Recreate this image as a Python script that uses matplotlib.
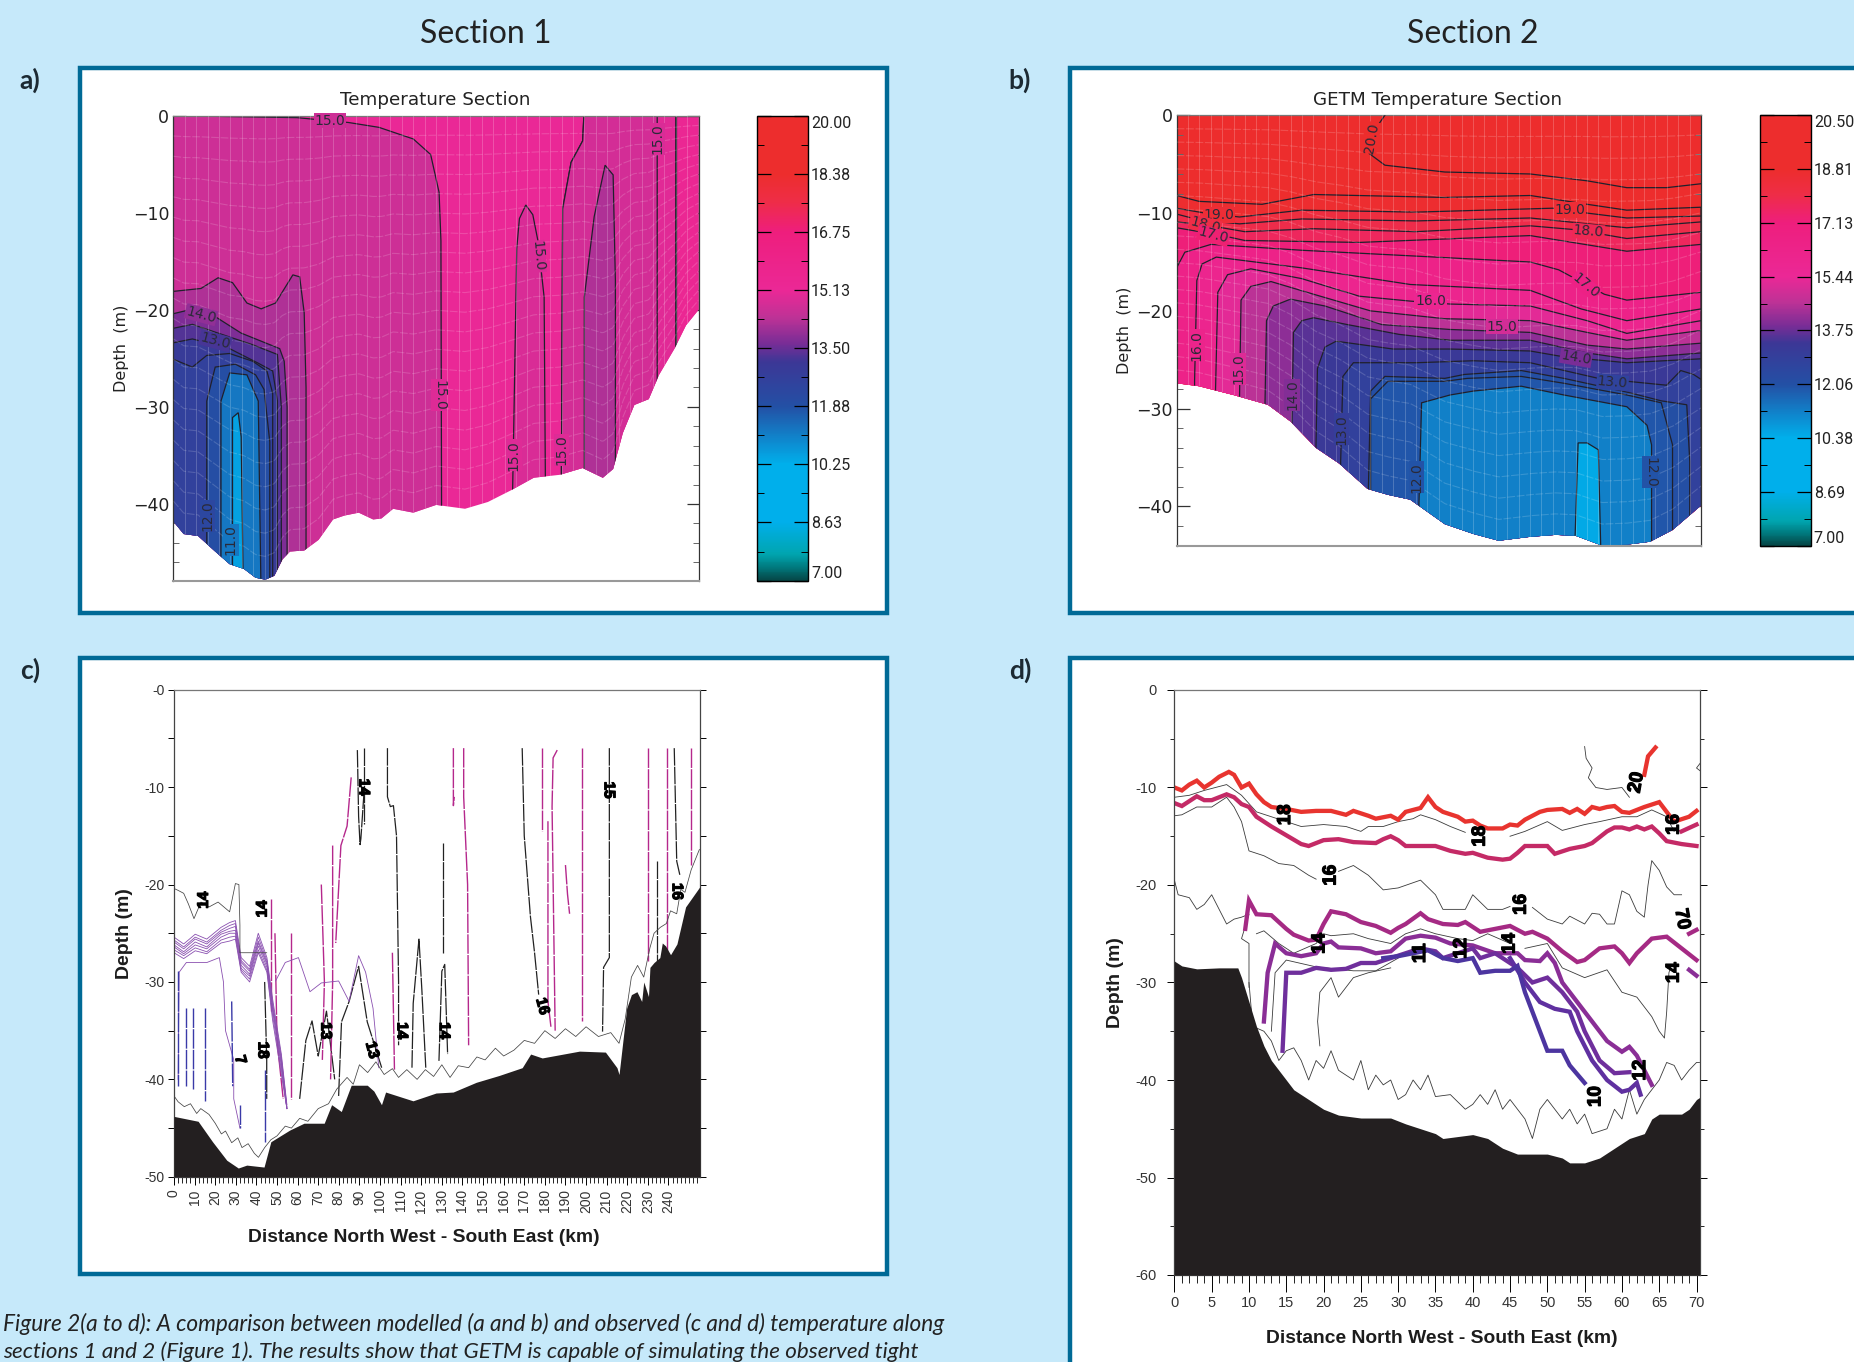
import numpy as np
import matplotlib
matplotlib.use("Agg")
import matplotlib.pyplot as plt
import matplotlib.patheffects as pe
from matplotlib.patches import Polygon, Rectangle
from matplotlib.colors import LinearSegmentedColormap, Normalize
from matplotlib.cm import ScalarMappable
from matplotlib.ticker import MultipleLocator, FixedLocator

W, H = 1854, 1362
plt.rcParams['font.family'] = ['Lato', 'DejaVu Sans']

# ---------- colour scale ----------
CMAP_FRAC = [0, .03, .056, .125, .25, .374, .47, .51, .566, .625, .75, .817, .875, 1]
CMAP_RGB = [(5, 70, 70), (0, 125, 130), (0, 165, 175), (0, 175, 235), (0, 175, 235), (35, 80, 165),
            (60, 55, 150), (120, 45, 150), (190, 50, 150), (235, 40, 150), (238, 30, 125),
            (238, 45, 70), (237, 45, 45), (237, 45, 45)]
CBAR_A_LABELS = ['7.00', '8.63', '10.25', '11.88', '13.50', '15.13', '16.75', '18.38', '20.00']
CBAR_B_LABELS = ['7.00', '8.69', '10.38', '12.06', '13.75', '15.44', '17.13', '18.81', '20.50']

# ---------- panel a ----------
A_BATHY_X = [0, 5, 12, 20.3, 27.3, 34.3, 39.9, 44.6, 49, 53, 56.6, 63.5, 70.5, 77.5, 83, 90, 97, 101, 106.7,
             116.5, 127.6, 141.6, 152.7, 163.9, 175, 187.6, 198.7, 208.5, 213.5, 218.2, 223.8, 230.8, 235.8,
             243.3, 248.9, 255]
A_BATHY_D = [41.8, 43.1, 43.3, 44.9, 46.2, 46.7, 47.6, 47.8, 47.4, 45.7, 44.9, 44.8, 43.7, 41.6, 41.2, 40.9,
             41.6, 41.5, 40.5, 40.9, 40.1, 40.5, 39.8, 38.6, 37.3, 37, 36.3, 37.3, 36.4, 32.7, 29.8, 29.2,
             26.7, 24, 21.6, 20]
A_BASE_T = 15.1
A_EDGE = [(243.9, 0), (255, 0), (255, 50), (243.9, 50)]
A_WEST = [(0, 0), (60, 0.2), (85, .7), (99.8, 1.2), (116.5, 2.4), (124.9, 4), (129, 7.9), (129.9, 12.9),
          (130.2, 40.2), (130.2, 50), (0, 50)]
A_TONGUE1 = [(164.7, 50), (164.7, 38.6), (165.3, 31.5), (166.7, 13.7), (168, 10.6), (171.1, 9.2), (174.5, 10.2),
             (177, 12.9), (180, 18.7), (180.6, 37.3), (180.6, 50)]
A_EAST1 = [(188.4, 50), (188.4, 36.9), (189, 9.6), (193.1, 4.8), (198.7, 2.6), (199.3, 0), (243.9, 0), (243.9, 50)]
A_EAST2 = [(188.4, 50), (188.4, 36.9), (189, 9.6), (193.1, 4.8), (198.7, 2.6), (199.3, 0), (234.9, 0), (234.9, 50)]
A_TONGUE2 = [(199.5, 50), (199.5, 18.7), (204.3, 10.4), (209.6, 5.1), (213.5, 6.1), (214.6, 17), (214.6, 34.8), (214.6, 50)]
A_C1 = [(0, 18.1), (13.4, 17.8), (21.7, 16.7), (28.7, 17.2), (35.7, 19.3), (42.6, 19.9), (49.6, 19.3), (58, 16.4),
        (61.3, 16.6), (63.5, 20.3), (64.4, 28), (64.4, 50), (0, 50)]
A_C2 = [(0, 20.4), (7.8, 20), (20.3, 20.7), (32.9, 22.4), (51.6, 24), (53.8, 25.3), (55.2, 30), (55.2, 50), (0, 50)]
A_C3 = [(0, 21.9), (9.2, 21.5), (21.7, 22.4), (38.5, 23.6), (50.5, 24.6), (52.4, 30), (52.4, 50), (0, 50)]
A_C4 = [(0, 23.4), (9.2, 23), (27.3, 24), (41.2, 25.5), (48.2, 26.3), (50.5, 29.4), (50.5, 50), (0, 50)]
A_C5 = [(0, 25.1), (9.2, 25.9), (16.2, 24.7), (27.3, 24.5), (38.5, 25.3), (45.4, 26.3), (48.2, 28.6), (48.2, 50), (0, 50)]
A_C6 = [(16.2, 50), (16.2, 29.4), (20.3, 25.9), (30.1, 25.6), (39.9, 26.7), (44, 28.2), (46.8, 33.6), (46.8, 50)]
A_C7 = [(23.1, 50), (23.1, 29.4), (27.3, 26.5), (35.7, 26.7), (41.2, 29.4), (42.6, 50)]
A_C8 = [(28.7, 50), (28.7, 31.1), (31.5, 30.6), (32.9, 33.1), (34, 50)]
A_LAYERS = [(A_EDGE, 15.35), (A_EAST1, 14.95), (A_EAST2, 14.7), (A_TONGUE2, 14.2), (A_WEST, 14.6), (A_TONGUE1, 14.8),
            (A_C1, 14.2), (A_C2, 13.7), (A_C3, 13.3), (A_C4, 12.9), (A_C5, 12.6), (A_C6, 12.0), (A_C7, 11.2), (A_C8, 10.5)]
A_LABELS = [(76, .5, '15.0', 0, 14.6), (129, 28.8, '15.0', 270, 14.9), (177, 14.5, '15.0', 275, 14.8),
            (165.3, 35, '15.0', 90, 14.9), (188.4, 34.4, '15.0', 90, 14.9), (235, 2.4, '15.0', 90, 14.8),
            (13.4, 20.5, '14.0', -15, 13.9), (20.3, 23.2, '13.0', -15, 13.2), (16.7, 41.2, '12.0', 90, 12.3),
            (27.9, 43.7, '11.0', 90, 11.2)]

# ---------- panel b ----------
B_BATHY_X = [0, 3, 7.6, 12.2, 15.2, 18.6, 21.7, 25.5, 28.2, 31.2, 35.8, 39.6, 43, 47.2, 50.6, 53.3, 56.8, 60.1,
             63.2, 66.2, 70]
B_BATHY_D = [27.4, 27.7, 28.6, 29.6, 31.3, 34, 35.6, 38.2, 38.8, 39.3, 41.8, 42.8, 43.5, 43.1, 42.9, 43, 44, 43.9,
             43.6, 42.4, 39.9]
B_BASE_T = 20.3
B_20 = [(27.8, 0), (25.9, 2.1), (25.7, 3.9), (27.8, 5.1), (35.8, 5.8), (47.2, 6), (54.8, 6.7), (60.1, 7.4), (65.4, 7.4), (70, 7)]
B_L1 = [(0, 8.2), (3, 8.8), (11.4, 9.1), (18.3, 8.1), (35.8, 8.4), (47.2, 8.2), (54.8, 9.1), (60.1, 9.7), (70, 9.4)]
B_L2 = [(0, 9.5), (3.8, 10), (8.4, 10.4), (16.7, 9.7), (32, 9.9), (50.2, 9.5), (54.8, 10), (60.1, 10.5), (70, 10.3)]
B_L3 = [(0, 10.1), (3, 10.7), (8.4, 11.1), (16.7, 10.6), (32, 10.8), (47.2, 10.5), (60.1, 11.5), (70, 10.9)]
B_L4 = [(0, 10.9), (3.8, 11.2), (9.1, 11.9), (18.3, 11.6), (32, 11.9), (47.2, 11.3), (53.3, 11.7), (60.1, 12.6), (70, 11.9)]
B_L5 = [(0, 11.5), (6.1, 12.3), (9.1, 12.8), (24.4, 13), (47.2, 12.3), (60.1, 13.9), (70, 13.2)]
B_L6 = [(0, 15.6), (1.1, 14), (4.6, 13.2), (16.7, 13.8), (32, 14.4), (47.2, 15), (51, 15.8), (57.1, 18.3), (60.1, 18.9), (70, 18.1)]
B_L7 = [(2.4, 50), (2.4, 27.2), (2.7, 16.9), (3.4, 15.2), (5.3, 14.5), (16.7, 15.6), (31.2, 17.3), (47.2, 17.9), (54, 19.8), (60.1, 21), (70, 19.8)]
B_L8 = [(5.2, 50), (5.2, 28), (5.5, 18.1), (6.8, 16.3), (9.9, 15.7), (16.7, 16.7), (24.4, 18.5), (31.2, 19), (36.5, 19.3), (47.2, 19.5), (54.8, 21), (60.1, 22.3), (70, 21)]
B_L9 = [(8.4, 50), (8.4, 28.8), (8.6, 18.9), (9.9, 17.5), (12.6, 17), (18.3, 18.3), (25.9, 20), (35.8, 20.8), (47.2, 21), (54.8, 22.2), (60.1, 23), (70, 22)]
B_L10 = [(11.8, 50), (11.8, 29.4), (12, 21), (12.9, 19.5), (15.2, 18.8), (19.8, 19.5), (27.4, 21.4), (36.5, 21.9), (47.2, 22.2), (54.8, 23.5), (60.1, 23.9), (70, 23.3)]
B_L11 = [(15.4, 50), (15.4, 31.3), (15.6, 22.2), (16.7, 21), (18.3, 20.7), (22.8, 21.4), (29.7, 22.4), (36.5, 23), (47.2, 23), (54.8, 24.3), (60.1, 24.9), (70, 24.3)]
B_L12 = [(18.6, 50), (18.6, 34), (18.8, 25.9), (19.8, 23.7), (21.3, 23.1), (28.9, 23.9), (36.5, 23.9), (47.2, 24.1), (51.7, 24.7), (60.1, 25.3), (70, 24.9)]
B_L13 = [(21.9, 50), (21.9, 35.4), (22.2, 26.7), (23.6, 25.3), (32, 25.3), (39.6, 25.1), (47.2, 25.3), (56.3, 26.9), (65.4, 27.6), (67.3, 26.1), (69, 26.5), (70, 27)]
B_E1 = [(25.6, 50), (25.6, 38.2), (25.9, 28.2), (27.8, 26.7), (35.8, 26.9), (38.4, 26.5), (46, 26.1), (51.7, 26.9), (60.1, 28.3),
        (64.7, 29.2), (68.1, 29.6), (68.5, 35.4), (68.5, 50)]
B_E2 = [(25.9, 50), (25.9, 29), (28.2, 27.2), (35.8, 27.2), (38.8, 26.9), (46, 26.7), (51.7, 27.4), (60.1, 28.6), (64.7, 29.4), (66.2, 33.7), (66.2, 50)]
B_F = [(32, 50), (32.7, 29.4), (36.5, 28.6), (39.6, 28.2), (46, 27.7), (51.7, 28.6), (60.1, 29.8), (62.8, 31.7), (63.4, 33.7), (63.4, 50)]
B_G = [(52.9, 50), (53.6, 33.5), (54.8, 33.5), (56.3, 34.2), (56.8, 50)]
B_CURVES = [(B_L1, 18.7), (B_L2, 18.25), (B_L3, 17.95), (B_L4, 17.65), (B_L5, 17.2), (B_L6, 16.4), (B_L7, 16.0), (B_L8, 15.3),
            (B_L9, 14.6), (B_L10, 14.1), (B_L11, 13.6), (B_L12, 13.25), (B_L13, 12.85), (B_E1, 12.1), (B_E2, 11.95), (B_F, 11.2), (B_G, 10.5)]
B_LABELS = [(26, 2.3, '20.0', 80, 20), (5.7, 10.2, '19.0', 0, 18.5), (3.8, 11.2, '18.0', -15, 18), (4.9, 12.3, '17.0', -15, 17.3),
            (2.7, 23.5, '16.0', 90, 16.2), (8.2, 25.9, '15.0', 90, 15.2), (15.4, 28.6, '14.0', 90, 14), (22, 32.1, '13.0', 90, 13),
            (32, 37, '12.0', 90, 12), (63.2, 36.5, '12.0', 270, 12), (52.5, 9.7, '19.0', 0, 18.5), (55, 11.9, '18.0', -5, 17.8),
            (54.6, 17.4, '17.0', -40, 16.6), (33.9, 19, '16.0', 0, 15.8), (43.4, 21.6, '15.0', 0, 15), (53.3, 24.8, '14.0', -10, 13.9),
            (58.2, 27.3, '13.0', -5, 12.7)]

# ---------- panel c ----------
C_BATHY_X = [0, 11.7, 18.7, 25.6, 31.2, 35.3, 43.7, 47, 56.2, 63.1, 72.9, 76.5, 81.2, 86, 93.8, 97, 100.7, 102.7, 116, 127.2,
             135.5, 146.7, 157.8, 169, 173.1, 178.7, 196.8, 209.4, 215, 216, 219.7, 222, 224.7, 227, 228, 230.3, 231, 233, 235.8, 237, 238.6, 241,
             244.1, 248.3, 255.3]
C_BATHY_D = [43.8, 44.3, 46.4, 48.3, 49.1, 48.8, 49, 46.4, 45.2, 44.5, 44.5, 42.6, 43.3, 40.6, 40.6, 41.2, 42.6, 41.3, 42.2, 41.4,
             41.3, 40.3, 39.6, 38.8, 37.4, 37.8, 37.1, 37.2, 38.8, 39.5, 32.7, 31.3, 31, 32, 30, 31.5, 28.5, 28, 27.5, 26, 26.3, 27.2,
             26.1, 22.3, 20.2]
C_LOW = [(0, 41.7), (2, 42.3), (5, 42.8), (8, 42.5), (11, 43.5), (13, 43), (17, 43.6), (20, 44.5), (23, 45.6), (25, 45.3), (28, 46.5), (31, 46), (33, 47),
         (36, 46.6), (39, 47.6), (41, 48), (44, 47), (47, 46.2), (50, 45.8), (54, 44.8), (57, 45), (61, 44), (65, 44.3), (70, 43), (75, 42.5),
         (79, 41), (84, 39.8), (87, 40.5), (90, 38.5), (94, 39.3), (98, 38.2), (102, 39.5), (106, 38.9), (109, 39.8), (113, 39), (118, 40), (122, 39),
         (126, 39.7), (130, 38.5), (134, 39.8), (138, 38.6), (143, 38.8), (147, 37.7), (151, 38), (156, 36.8), (160, 37.6), (165, 37), (170, 36),
         (175, 36.3), (180, 35), (185, 35.8), (190, 34.8), (195, 35.6), (200, 34.6), (206, 35.6), (212, 35.2), (216, 36.3), (219, 33.8), (222, 29.5),
         (225, 28.3), (228, 29.5), (231, 26.5), (233, 25), (236, 24.4), (239, 24), (241, 22.7), (244, 23), (246, 20.5), (248, 20.8), (251, 18.5), (255, 16.4)]
C_UP_LEFT = [(0, 20.4), (2, 20.6), (4.7, 20.9), (7, 22), (9.7, 23.5), (13.1, 21.8), (17, 22.3), (21.4, 21.8), (27, 22.8), (29.8, 19.9), (31.5, 20), (32, 24.2), (32, 27), (45, 27)]
C_BLACK = [[(89, 6.2), (89.6, 13), (90.3, 15.9), (90.7, 15.3), (92.4, 10)], [(92.4, 6), (92.4, 13.8)],
           [(103.6, 6), (103.6, 11), (105, 12), (106.5, 11.9), (108, 15), (109, 30), (109, 36.5)],
           [(130.6, 15.7), (130.6, 27)], [(169, 6), (170, 15), (173, 23.3), (175, 27), (177, 31.3)],
           [(211.3, 6), (211.3, 27.5), (208.5, 28.5), (208, 35.1)], [(242.8, 6), (244, 17.6), (245.5, 19)], [(234.4, 17.6), (234.4, 28)],
           [(79.9, 41.7), (81.3, 34.1), (85, 32), (89.6, 28.4), (93.8, 34.1), (100.8, 38.8)], [(115.5, 38.8), (116.1, 32.2), (118.9, 25.6), (120.3, 30.8), (122.2, 38.8)],
           [(128.6, 38.1), (130, 28.9), (131.4, 28.2), (132.8, 37.4)], [(61, 42), (64, 36), (67, 34), (70, 37.6), (74, 33), (78, 40)], [(44, 30), (45, 38), (45, 42)]]
C_MAGENTA = [[(178.7, 6), (178.7, 14.5)], [(181.5, 13.5), (181.5, 32), (183, 34.7)], [(186, 6.2), (184, 7), (183.5, 12), (185, 35)],
             [(190, 18), (191, 21), (192, 23)], [(198, 6), (198, 34)], [(230, 6), (230, 27.8)], [(239.4, 6), (239.4, 27)], [(251, 6), (251, 18)],
             [(140.6, 6), (140.6, 11), (142.5, 20), (143, 36.5)], [(135.6, 6), (135.6, 11.9), (136, 11)],
             [(86, 9), (84, 14), (81, 16), (78.5, 26)], [(71.5, 20), (73, 30), (72, 38)], [(77, 16), (77, 30), (76, 40)], [(57, 25), (57, 36), (57, 42)], [(106, 27), (107, 39)], [(47, 21.5), (47, 33)], [(49, 25), (50, 36), (53, 42)]]
C_PURPLE = [[(0, 25.4), (4.7, 26.1), (10.3, 25.1), (15.9, 25.6), (22.8, 24.4), (27, 23.9), (29.8, 23.7), (32.6, 27.5), (36.7, 28.4), (40.9, 25), (45.1, 27.5), (47.9, 31.8), (52.1, 37.4), (54.8, 42.6)],
            [(0, 25.7), (4.7, 26.4), (10.3, 25.4), (15.9, 25.9), (22.8, 24.7), (27, 24.2), (29.8, 24), (32.6, 27.8), (36.7, 28.7), (40.9, 25.4), (45.1, 27.8), (47.9, 32.2), (52.1, 37.7), (54.8, 42.8)],
            [(0, 25.9), (4.7, 26.6), (10.3, 25.6), (15.9, 26.1), (22.8, 24.9), (27, 24.5), (29.8, 24.3), (32.6, 28), (36.7, 28.9), (40.9, 25.8), (45.1, 28), (47.9, 32.5), (52.1, 38), (54.8, 43)],
            [(0, 26.2), (4.7, 26.9), (10.3, 25.9), (15.9, 26.4), (22.8, 25.1), (27, 24.8), (29.8, 24.7), (32.6, 28.3), (36.7, 29.2), (40.9, 26), (45.1, 28.2), (47.9, 32.8), (52.1, 38.3), (54.8, 43)],
            [(0, 26.4), (4.7, 27.1), (10.3, 26.2), (15.9, 26.6), (22.8, 25.4), (27, 25), (29.8, 25), (32.6, 28.6), (36.7, 29.4), (40.9, 26.3), (45.1, 28.5), (47.9, 33), (52.1, 38.6), (54.8, 43)],
            [(0, 26.7), (4.7, 27.3), (10.3, 26.5), (15.9, 26.9), (22.8, 25.7), (27, 25.4), (29.8, 25.3), (32.6, 28.8), (36.7, 29.7), (40.9, 26.7), (45.1, 28.8), (47.9, 33.5), (52.1, 39), (54.8, 43)],
            [(0, 27), (4.7, 27.6), (10.3, 26.8), (15.9, 27.1), (22.8, 26), (27, 25.8), (29.8, 25.6), (32.6, 29), (36.7, 30), (40.9, 27), (45.1, 29), (47.9, 34), (52.1, 39.5), (54.8, 43)],
            [(49.3, 29.9), (54, 28), (60.4, 27.5), (66, 31), (71.5, 30.1), (79.9, 29.9), (85, 32), (89.6, 27.3), (93, 29), (96.6, 32.7), (99.4, 38.8)],
            [(2, 40), (2.5, 29), (6, 28), (16, 28), (22, 27.5), (24, 30), (25, 35), (29, 38), (29, 42), (32, 45)]]
C_BLUE = [[(2, 28.9), (2, 40.7)], [(6, 32.7), (6, 40.7)], [(9, 32.7), (9, 41)], [(15, 32.7), (15, 42.2)], [(28, 32), (28.5, 40.7)], [(32, 42.6), (32, 45)], [(44, 39), (44, 46.4)]]
C_LABELS = [(14.5, 21.6, '14', 90), (43, 22.5, '14', 90), (92, 10, '14', 270), (211, 10.3, '15', 270), (244, 20.7, '16', 270), (178.7, 32.5, '16', 285),
            (110.5, 35, '14', 270), (131, 35, '14', 270), (73.5, 35, '13', 270), (96, 37, '13', 285), (43, 37, '18', 270), (32, 38, '7', 285)]
C_XTICKS = list(range(0, 250, 10))

# ---------- panel d ----------
D_BATHY_X = [0, 1, 3, 6, 8.5, 9, 10, 11, 12, 13, 14, 15, 16, 18, 20, 22, 25, 29, 31, 33, 35, 36, 40, 42, 44, 46, 50, 52, 53, 55, 57, 59, 61, 63, 64, 65, 68, 69, 70, 70.4]
D_BATHY_D = [27.8, 28.3, 28.6, 28.5, 28.5, 29.5, 32, 34.5, 36.5, 38, 39, 40, 41, 42, 43, 43.6, 43.9, 43.9, 44.5, 45, 45.5, 46, 45.6, 46, 47, 47.6, 47.6, 48, 48.5, 48.5, 48, 47, 46, 45.5, 44, 43.5, 43.5, 43, 42, 41.8]
D_RED = [(0, 10), (1, 10.3), (2, 9.7), (3, 9.3), (4, 10), (5, 9.5), (6, 8.9), (7.3, 8.4), (8, 8.7), (9, 10), (10, 9.6), (11, 10.7), (12, 11.5), (13, 12), (15, 12.2), (17, 12.5), (19, 12.4), (21, 12.4), (23, 12.8), (24, 12.4), (26, 12.9), (27, 13.2), (29, 12.9), (30, 13.3), (31, 12.5), (33, 12.1), (34, 11), (35, 12), (36, 12.5), (38, 13), (39, 13.5), (40, 13.4), (41, 13.9), (42, 14.2), (44, 14.2), (45, 13.8), (46, 13.9), (47, 13.3), (49, 12.5), (50, 12.3), (52, 12.2), (53, 12.6), (54, 12.2), (55, 12.7), (56, 12), (57, 12.2), (58, 12), (59, 11.9), (60, 12.5), (61, 12.6), (63, 12), (65, 11.5), (66, 12.5), (67, 13.5), (69, 13), (70, 12.4)]
D_RED2 = [(63, 8.7), (63.5, 6.8), (64.5, 5.9)]
D_CRIMSON = [(0, 11.6), (1, 11.9), (2, 11.4), (3, 10.9), (4, 11.3), (5, 11.3), (6, 11), (7, 10.7), (8, 11), (9, 11.7), (10, 12), (11, 13), (13, 14), (15, 14.9), (17, 15.8), (18, 16), (19, 15.7), (20, 15.4), (22, 15.3), (24, 15.6), (27, 15.7), (28, 15.3), (29, 15), (30, 15.4), (31, 16), (33, 16), (35, 16), (37, 16.5), (39, 16.8), (40, 16.7), (42, 17.2), (44, 17.4), (45, 17.3), (46, 16.7), (47, 16), (50, 16), (51, 16.8), (53, 16.3), (55, 16), (56, 15.7), (58, 14.5), (59, 14.1), (60, 14.1), (61, 14.3), (62, 14), (63, 14.3), (64, 14), (65, 14.7), (66, 15.5), (68, 15.8), (70, 16)]
D_CRIMSON2 = [(68, 14.5), (70, 13.8)]
D_MAG = [(9.5, 24.5), (10, 21.6), (11, 23), (13, 23.1), (15, 24.5), (16, 25.1), (18, 25.7), (19, 25.6), (20, 24), (21, 22.7), (23, 23), (25, 23.8), (27, 24.2), (29, 24.9), (30, 24.4), (31, 24), (33, 22.9), (34, 23.5), (36, 24), (38, 24.1), (39, 23.8), (41, 24.8), (43, 24.5), (45, 24.2), (47, 25), (48, 24.8), (50, 25.5), (52, 26.8), (54, 27.9), (55, 27.7), (57, 26.5), (59, 26.3), (60, 27), (61, 28), (62, 27), (64, 25.5), (66, 25.3), (68, 26.5), (70, 27.7)]
D_MAG2 = [(69, 25), (70, 24.6)]
D_PUR = [(12, 34), (12.5, 29), (13.5, 26), (15, 27), (17, 27.3), (19, 27), (20, 26), (21, 25.8), (22, 26.4), (25, 26.5), (27, 27), (29, 26.8), (31, 25.5), (33, 25.2), (35, 25.4), (37, 26), (40, 26.2), (43, 27), (46, 27), (47, 27.7), (49, 27.8), (50, 27), (51, 28), (52, 30), (54, 32), (56, 34), (58, 36), (60, 37.1), (61, 36.6), (62, 37.5), (64, 40.5)]
D_PUR2 = [(69, 28.7), (70, 29.3)]
D_VIO1 = [(14.5, 37), (15, 29), (17, 29), (19, 28.5), (21, 28.7), (23, 28.6), (25, 28), (27, 28), (29, 27.5), (31, 27), (33, 26.5), (35, 26.8), (36, 27.5), (38, 27), (40, 26.5), (41, 27.5), (43, 27), (45, 28), (46, 28.5), (48, 30), (50, 29.5), (52, 31), (54, 33), (55, 35), (57, 38), (59, 39.3), (61, 39.2)]
D_VIO2 = [(45, 27.5), (47, 30), (49, 32), (51, 32.7), (53, 33), (54, 35), (56, 38), (58, 40), (60, 41.2), (61, 41), (62, 40.3), (62.5, 41.5)]
D_VIO3 = [(28, 27.5), (30, 27.3), (32, 27), (34, 26.7), (36, 27.5), (38, 27.8), (40, 27.5), (41, 29), (43, 28.8), (45, 28.8), (46, 28.3), (47, 31), (48, 33), (49, 35), (50, 37), (52, 37), (53, 38.5), (55, 40.3)]
D_THIN = [[(0, 11), (2, 10.8), (4, 10.3), (6, 9.9), (7, 9.7), (9, 10.8), (11, 12.5), (13, 13), (15, 13.5), (17, 14), (20, 13.8), (23, 14), (25, 14.5), (26, 14), (28, 14), (30, 13.5), (32, 13.2), (33, 12.8), (35, 13.3), (37, 14), (39, 14.6)],
          [(45, 15), (47, 14.5), (50, 13.5), (52, 14.4), (55, 13.8), (57, 13.5), (60, 13), (62, 13), (64, 12.3), (66, 13), (67, 14.5)],
          [(0, 12.9), (1, 12.8), (3, 12), (5, 12), (7, 11), (8, 12), (9, 13.5), (10, 16.5), (12, 17), (14, 17.8), (16, 18), (18, 19), (19, 19.4)],
          [(22, 18.6), (24, 18), (26, 19), (28, 20.5), (30, 20.3), (33, 19.5), (35, 21), (36, 22.5), (39, 22.5), (40, 21), (42, 22.5), (44, 22.5), (45, 22.2)],
          [(48, 22.3), (50, 23.5), (52, 24), (53, 23.2), (55, 24), (56, 22.9), (57, 23), (58, 24), (59, 24), (60, 20.6), (61, 21), (62, 22.7), (63, 23.3), (63.5, 20), (64, 17.5), (65, 18.5), (66, 20.2), (67, 21), (68, 21)],
          [(0, 19.5), (.5, 21), (2, 21.3), (3, 22.5), (4, 22), (5, 21), (6, 22.5), (7, 24), (8, 23.5), (9, 23.3), (10, 23), (9, 25.5), (10, 26), (10, 30.5)],
          [(10, 30), (10.5, 34.5), (12, 35), (13, 36), (14, 38), (15, 37), (16, 36.7), (17, 38), (18, 40), (19, 38), (20, 38.8), (21, 37), (22, 39), (24, 40), (25, 38), (26, 41), (27, 39.5), (28, 40.5), (29, 40), (30, 42), (31, 41.5), (32, 40), (33, 41), (34, 39.5), (35, 41.7), (37, 41.5), (39, 43), (40, 42.5), (41, 41.5), (42, 42.5), (43, 41), (44, 43), (45, 42), (47, 44), (48, 46), (49, 43), (50, 42), (52, 44), (53, 43), (54, 44.5), (55, 43.5), (56, 45.5), (58, 45), (59, 43), (60, 44), (61, 41), (62, 43.5), (63, 42), (65, 40), (66, 38.2), (67, 38.5), (68, 40), (69, 39), (70, 38.2), (70.4, 38.2)],
          [(11, 25), (12, 24.7), (14, 26), (16, 27), (19, 26), (20, 25), (21, 25.2), (24, 25), (26, 25.5), (29, 26), (31, 25), (33, 24.5), (35, 25), (38, 25.5), (40, 25.7), (42, 25), (45, 26)],
          [(47, 26.5), (50, 26), (52, 28.5), (55, 29.5), (58, 28.7), (60, 31), (62, 31.5), (64, 33.5), (65, 35), (65.7, 35.7), (66, 33), (66.3, 29), (66.5, 28.5)],
          [(13, 35), (13.5, 29), (15, 27.7), (19, 28.4), (24, 28.8), (27, 28.8), (30, 27.5)],
          [(19.5, 36.5), (19.2, 34), (19.5, 31), (21, 29.5), (22, 31.5), (24, 29.5), (26, 29), (29, 28.5)],
          [(55, 5.8), (55.2, 7), (56, 8), (55.5, 9), (56.5, 10), (58, 10.2), (60, 10), (61, 11)], [(70.5, 7.5), (70, 8), (70.5, 8.3)]]
D_LABELS = [(14.9, 12.8, '18', 90), (41, 15, '18', 90), (21, 19, '16', 90), (46.5, 22, '16', 90), (68, 23.5, '70', 280), (67, 29, '14', 90),
            (19.5, 26, '14', 90), (38.5, 26.5, '12', 90), (45, 26, '14', 90), (33, 27, '11', 90), (56.5, 41.7, '10', 90), (62.5, 39, '12', 90),
            (62, 9.5, '20', 80), (67, 13.8, '16', 90)]

CAPTION = ['Figure 2(a to d): A comparison between modelled (a and b) and observed (c and d) temperature along',
           'sections 1 and 2 (Figure 1). The results show that GETM is capable of simulating the observed tight']
XLABEL = 'Distance North West - South East (km)'

# ---------- helpers ----------
rgb = [tuple(c / 255 for c in col) for col in CMAP_RGB]
cmap = LinearSegmentedColormap.from_list('sect', list(zip(CMAP_FRAC, rgb)), N=512)
BORDER = '#006a96'
LINE = '#20202c'

fig = plt.figure(figsize=(W / 100, H / 100), dpi=100, facecolor='#c6e9fa')
bg = fig.add_axes([0, 0, 1, 1], zorder=0)
bg.set_xlim(0, W); bg.set_ylim(H, 0); bg.axis('off')
for (x0, y0, w, h) in [(80, 68, 807, 545), (1070, 68, 1000, 545), (80, 658, 807, 616), (1070, 658, 1000, 1000)]:
    bg.add_patch(Rectangle((x0, y0), w, h, fc='white', ec=BORDER, lw=3.2))
bg.text(486, 34, 'Section 1', ha='center', va='center', fontsize=23, color='#222222')
bg.text(1473, 34, 'Section 2', ha='center', va='center', fontsize=23, color='#222222')
for t, x, y in [('a)', 30, 80), ('b)', 1020, 80), ('c)', 30, 670), ('d)', 1020, 670)]:
    bg.text(x, y, t, ha='center', va='center', fontsize=19, fontweight='bold', color='#1c2a33')
bg.text(3, 1324, CAPTION[0], fontsize=16.25, style='italic', va='center', color='#222222')
bg.text(3, 1352, CAPTION[1], fontsize=16.1, style='italic', va='center', color='#222222')
for x, y in [(424, 1237), (1442, 1338.5)]:
    bg.text(x, y, XLABEL, ha='center', va='center', fontsize=13.85, fontweight='bold', family=['Liberation Sans'], color='#1c1c1c')


def ax_px(l, t, r, b):
    a = fig.add_axes([l / W, 1 - b / H, (r - l) / W, (b - t) / H], zorder=2)
    a.patch.set_alpha(0)
    return a


def model_panel(rect, xmax, ymax, bx, bd, base_T, layers, labels, norm, title, title_x, extra_lines=()):
    ax = ax_px(*rect)
    ax.set_xlim(0, xmax); ax.set_ylim(-ymax, 0)
    dom = Polygon([(0, 0), (xmax, 0)] + [(x, -d) for x, d in zip(bx[::-1], bd[::-1])], closed=True,
                  fc=cmap(norm(base_T)), ec='none', zorder=1)
    ax.add_patch(dom)
    for pts, T in layers:
        p = Polygon([(x, -d) for x, d in pts], closed=True, fc=cmap(norm(T)), ec=LINE, lw=0.9, zorder=2)
        ax.add_patch(p); p.set_clip_path(dom)
    for pts in extra_lines:
        l, = ax.plot([x for x, d in pts], [-d for x, d in pts], color=LINE, lw=0.9, zorder=3)
        l.set_clip_path(dom)
    # model grid overlay
    gx = np.linspace(0, xmax, 300)
    gb = np.interp(gx, bx, bd)
    for fr in np.linspace(0.05, 0.95, 19):
        l, = ax.plot(gx, -fr * gb, color='white', lw=0.8, alpha=0.16, zorder=4, ls=(0, (7, 1.5)))
        l.set_clip_path(dom)
    for xs in np.arange(xmax / 46, xmax, xmax / 46):
        l = ax.axvline(xs, color='white', lw=0.7, alpha=0.2, zorder=4)
        l.set_clip_path(dom)
    for x, d, s, r, T in labels:
        ax.text(x, -d, s, rotation=r, ha='center', va='center', fontsize=10, color='#2a2a38', zorder=5,
                family=['DejaVu Sans'], rotation_mode='anchor',
                bbox=dict(fc=cmap(norm(T)), ec='none', pad=0.5))
    ax.set_xticks([])
    ax.yaxis.set_major_locator(MultipleLocator(10))
    ax.yaxis.set_minor_locator(MultipleLocator(2))
    ax.tick_params(axis='y', which='major', direction='in', left=True, right=True, length=9, width=0.9, labelsize=12.5, pad=3, color='#333333')
    ax.tick_params(axis='y', which='minor', direction='in', left=True, right=True, length=4, width=0.7, color='#666666')
    ax.set_yticks([0, -10, -20, -30, -40])
    ax.set_yticklabels(['0', '\u221210', '\u221220', '\u221230', '\u221240'], family=['DejaVu Sans'], color='#222222')
    for s in ax.spines.values():
        s.set_linewidth(0.9); s.set_color('#333333')
    ax.spines['bottom'].set_color('#999999'); ax.spines['bottom'].set_linewidth(1.5)
    ax.spines['top'].set_color('#777777')
    ax.set_ylabel('Depth  (m)', fontsize=11.5, family=['DejaVu Sans'], labelpad=3, color='#222222')
    bg.text(title_x, 100, title, ha='center', va='center', fontsize=13.2, family=['DejaVu Sans'], color='#222222')
    return ax


def colorbar_panel(rect, norm, labels):
    cax = ax_px(*rect)
    cb = fig.colorbar(ScalarMappable(norm=norm, cmap=cmap), cax=cax)
    vmin, vmax = norm.vmin, norm.vmax
    majors = np.linspace(vmin, vmax, 9)
    cb.set_ticks(majors)
    cb.set_ticklabels(labels)
    cax.yaxis.set_minor_locator(FixedLocator((majors[:-1] + majors[1:]) / 2))
    cax.tick_params(axis='y', which='major', direction='in', left=True, right=True, length=10, width=0.9, labelsize=11.5, pad=2)
    cax.tick_params(axis='y', which='minor', direction='in', left=True, right=True, length=5, width=0.7)
    tl = cax.get_yticklabels()
    tl[0].set_va('bottom'); tl[-1].set_va('top')
    for t in tl:
        t.set_family(['Roboto']); t.set_color('#222222')
    cb.outline.set_linewidth(1.0)
    return cax


# panel a
norm_a = Normalize(7, 20)
model_panel((173.4, 115.7, 698.6, 580.6), 255, 47.9, A_BATHY_X, A_BATHY_D, A_BASE_T, A_LAYERS, A_LABELS, norm_a,
            'Temperature Section', 435)
colorbar_panel((756.6, 115.7, 808.3, 580.6), norm_a, CBAR_A_LABELS)

# panel b
norm_b = Normalize(7, 20.5)
b_layers = []
for c, T in B_CURVES:
    pts = list(c)
    if pts[-1][0] == 70:
        pts.append((70.1, 50))
        if pts[0][1] < 20:
            pts.append((0, 50))
    b_layers.append((pts, T))
model_panel((1176.6, 115.3, 1701, 545.6), 70, 44, B_BATHY_X, B_BATHY_D, B_BASE_T, b_layers, B_LABELS, norm_b,
            'GETM Temperature Section', 1438, extra_lines=[B_20])
colorbar_panel((1760, 115.3, 1811, 545.6), norm_b, CBAR_B_LABELS)


def obs_axis(ax, ymax):
    for s in ax.spines.values():
        s.set_linewidth(0.9); s.set_color('#444444')
    ax.spines['top'].set_color('#777777')
    ax.set_ylim(-ymax, 0)
    ax.set_ylabel('Depth (m)', fontsize=14, fontweight='bold', family=['Liberation Sans'], labelpad=8, color='#1c1c1c')


BLOB = [pe.withStroke(linewidth=0.9, foreground='black')]

# panel c
ax = ax_px(174, 689.7, 700, 1176.8)
ax.set_xlim(0, 255.3)
ax.fill_between(C_BATHY_X, [-d for d in C_BATHY_D], -50, color='#231f20', lw=0, zorder=3)
for pts in C_BLACK:
    ax.plot(*zip(*[(x, -d) for x, d in pts]), color='#222222', lw=0.9, ls=(0, (14, 0.9)), zorder=2)
for pts in C_MAGENTA:
    ax.plot(*zip(*[(x, -d) for x, d in pts]), color='#b5288c', lw=1.0, ls=(0, (14, 0.9)), zorder=2)
for pts in C_PURPLE:
    ax.plot(*zip(*[(x, -d) for x, d in pts]), color='#8a50b0', lw=0.6, zorder=2)
for pts in C_BLUE:
    ax.plot(*zip(*[(x, -d) for x, d in pts]), color='#3a3aa8', lw=1.0, ls=(0, (14, 0.9)), zorder=2)
ax.plot(*zip(*[(x, -d) for x, d in C_LOW]), color='#444444', lw=0.55, zorder=2)
ax.plot(*zip(*[(x, -d) for x, d in C_UP_LEFT]), color='#444444', lw=0.55, zorder=2)
for x, d, s, r in C_LABELS:
    ax.text(x, -d, s, rotation=r, ha='center', va='center', fontsize=11, fontweight='bold', family=['Liberation Sans'],
            color='black', zorder=4, path_effects=BLOB)
obs_axis(ax, 50)
ax.set_xticks(C_XTICKS)
ax.set_xticklabels([str(v) for v in C_XTICKS], rotation=90, fontsize=10, family=['Liberation Sans'], color='#333333')
ax.xaxis.set_minor_locator(MultipleLocator(2))
ax.set_yticks([0, -10, -20, -30, -40, -50])
ax.set_yticklabels(['-0', '-10', '-20', '-30', '-40', '-50'], fontsize=10, family=['Liberation Sans'], color='#333333')
ax.yaxis.set_minor_locator(MultipleLocator(5))
ax.tick_params(axis='x', which='major', length=6, width=0.7, pad=3)
ax.tick_params(axis='x', which='minor', length=4, width=0.6)
ax.tick_params(axis='y', which='both', direction='out', right=True, length=4, width=0.7, pad=3)

# panel d
ax = ax_px(1174.4, 690, 1699.5, 1275)
ax.set_xlim(0, 70.4)
ax.fill_between(D_BATHY_X, [-d for d in D_BATHY_D], -60, color='#231f20', lw=0, zorder=3)
for pts in D_THIN:
    ax.plot(*zip(*[(x, -d) for x, d in pts]), color='#3a3a3a', lw=0.6, zorder=2)
for pts, col in [(D_RED, '#e8342f'), (D_RED2, '#e8342f'), (D_CRIMSON, '#c42a66'), (D_CRIMSON2, '#c42a66'), (D_MAG, '#a52a84'),
                 (D_MAG2, '#a52a84'), (D_PUR, '#8a2e96'), (D_PUR2, '#8a2e96'), (D_VIO1, '#6f2f9c'), (D_VIO2, '#5f30a0'), (D_VIO3, '#4c35a0')]:
    ax.plot(*zip(*[(x, -d) for x, d in pts]), color=col, lw=3.1, zorder=2.5, solid_joinstyle='miter')
for x, d, s, r in D_LABELS:
    ax.text(x, -d, s, rotation=r, ha='center', va='center', fontsize=13.5, fontweight='bold', family=['Liberation Sans'],
            color='black', zorder=4, path_effects=BLOB)
obs_axis(ax, 60)
ax.set_xticks(range(0, 71, 5))
ax.set_xticklabels([str(v) for v in range(0, 71, 5)], fontsize=10.5, family=['Liberation Sans'], color='#333333')
ax.xaxis.set_minor_locator(MultipleLocator(1))
ax.set_yticks([0, -10, -20, -30, -40, -50, -60])
ax.set_yticklabels(['0', '-10', '-20', '-30', '-40', '-50', '-60'], fontsize=10.5, family=['Liberation Sans'], color='#333333')
ax.yaxis.set_minor_locator(MultipleLocator(5))
ax.tick_params(axis='x', which='major', length=12, width=0.7, pad=3)
ax.tick_params(axis='x', which='minor', length=6, width=0.6)
ax.tick_params(axis='y', which='major', direction='out', right=True, length=5, width=0.7, pad=8)
ax.tick_params(axis='y', which='minor', direction='out', right=True, length=3, width=0.6)

fig.savefig('out.png', dpi=100, facecolor=fig.get_facecolor())
